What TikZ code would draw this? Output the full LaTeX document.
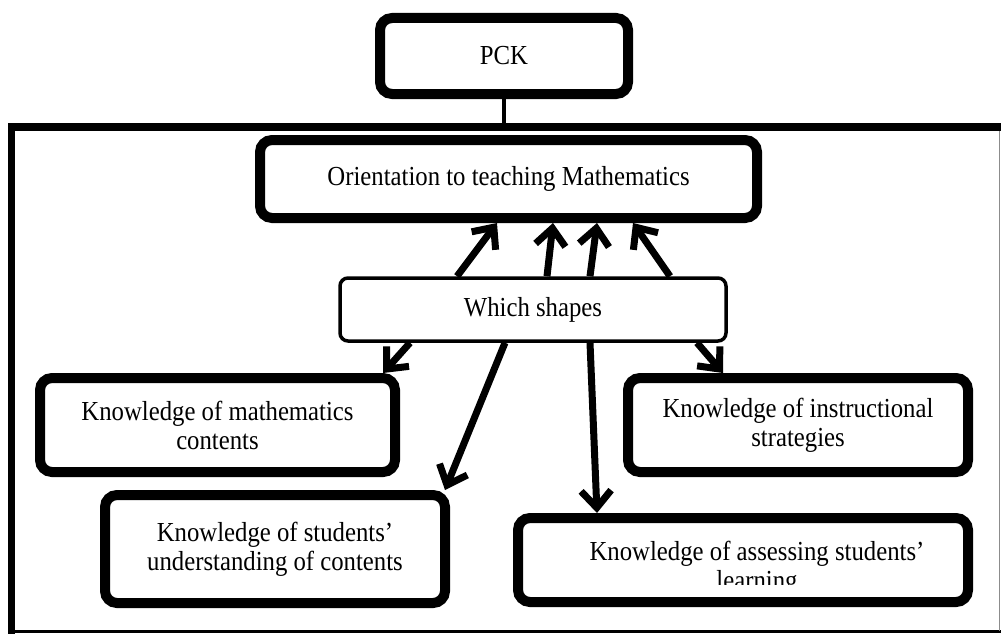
\documentclass[tikz,border=0pt]{standalone}
\usepackage{fontspec}
\setmainfont{Liberation Serif}[FakeStretch=0.9]
\usetikzlibrary{arrows.meta}
\begin{document}
\begin{tikzpicture}[x=1pt,y=-1pt,
  font=\fontsize{27.5}{29}\selectfont,
  bigbox/.style={draw=black, line width=10pt, rounded corners=12pt, fill=white, align=center, inner sep=0pt},
  thinbox/.style={draw=black, line width=3.5pt, rounded corners=8pt, fill=white, align=center, inner sep=0pt},
  link/.style={line width=7pt, -{Straight Barb[length=17pt,width=30pt,line width=7pt]}},
]
\useasboundingbox[fill=white] (0,0) rectangle (1001,634);
% outer frame
\draw[line width=8pt] (8,127) -- (1001,127);
\draw[line width=7pt] (11.5,123) -- (11.5,634);
\draw[line width=3pt] (8,631.5) -- (1001,631.5);
\draw[line width=1pt, black!45] (999.5,131) -- (999.5,631);
\coordinate (ftop) at (505,127);

\node[bigbox, minimum width=248pt, minimum height=76pt] (pck) at (504,56) {PCK};
\draw[line width=4pt] (pck.south) -- (pck.south |- ftop);

\node[bigbox, minimum width=497pt, minimum height=78pt] (orient) at (508.5,179) {Orientation to teaching Mathematics};
\node[thinbox, minimum width=386pt, minimum height=63pt] (ws) at (533,309.5) {Which shapes};
\node[bigbox, minimum width=355pt, minimum height=94pt] (math) at (217.5,425) {Knowledge of mathematics\\contents};
\node[bigbox, minimum width=340pt, minimum height=94pt] (instr) at (798,425) {Knowledge of instructional\\strategies};
\node[bigbox, minimum width=340pt, minimum height=108pt] (stud) at (275,549) {Knowledge of students'\\understanding of contents};
\node[bigbox, minimum width=450pt, minimum height=84pt] (assess) at (743,560) {};
\begin{scope}
  \clip ([xshift=6pt,yshift=-6pt]assess.north west) rectangle ([xshift=-6pt,yshift=23pt]assess.south east);
  \node[align=center, inner sep=0pt, anchor=base] (assesstxt) at (757,589) {Knowledge of assessing students'\\learning};
\end{scope}

% arrows up
\draw[link] ([xshift=-76pt]ws.north) -- ([xshift=-11.5pt]orient.south);
\draw[link] ([xshift=14pt]ws.north) -- ([xshift=44.5pt]orient.south);
\draw[link] ([xshift=57pt]ws.north) -- ([xshift=88.5pt]orient.south);
\draw[link] ([xshift=137pt]ws.north) -- ([xshift=124.5pt]orient.south);
% arrows down
\draw[link] ([xshift=-123pt]ws.south) -- ([xshift=165.5pt]math.north);
\draw[link] ([xshift=164pt]ws.south) -- ([xshift=-75pt]instr.north);
\draw[link] ([xshift=-28pt]ws.south) -- ([xshift=170pt]stud.north);
\draw[link] ([xshift=57pt]ws.south) -- ([xshift=-146pt]assess.north);
\end{tikzpicture}
\end{document}
